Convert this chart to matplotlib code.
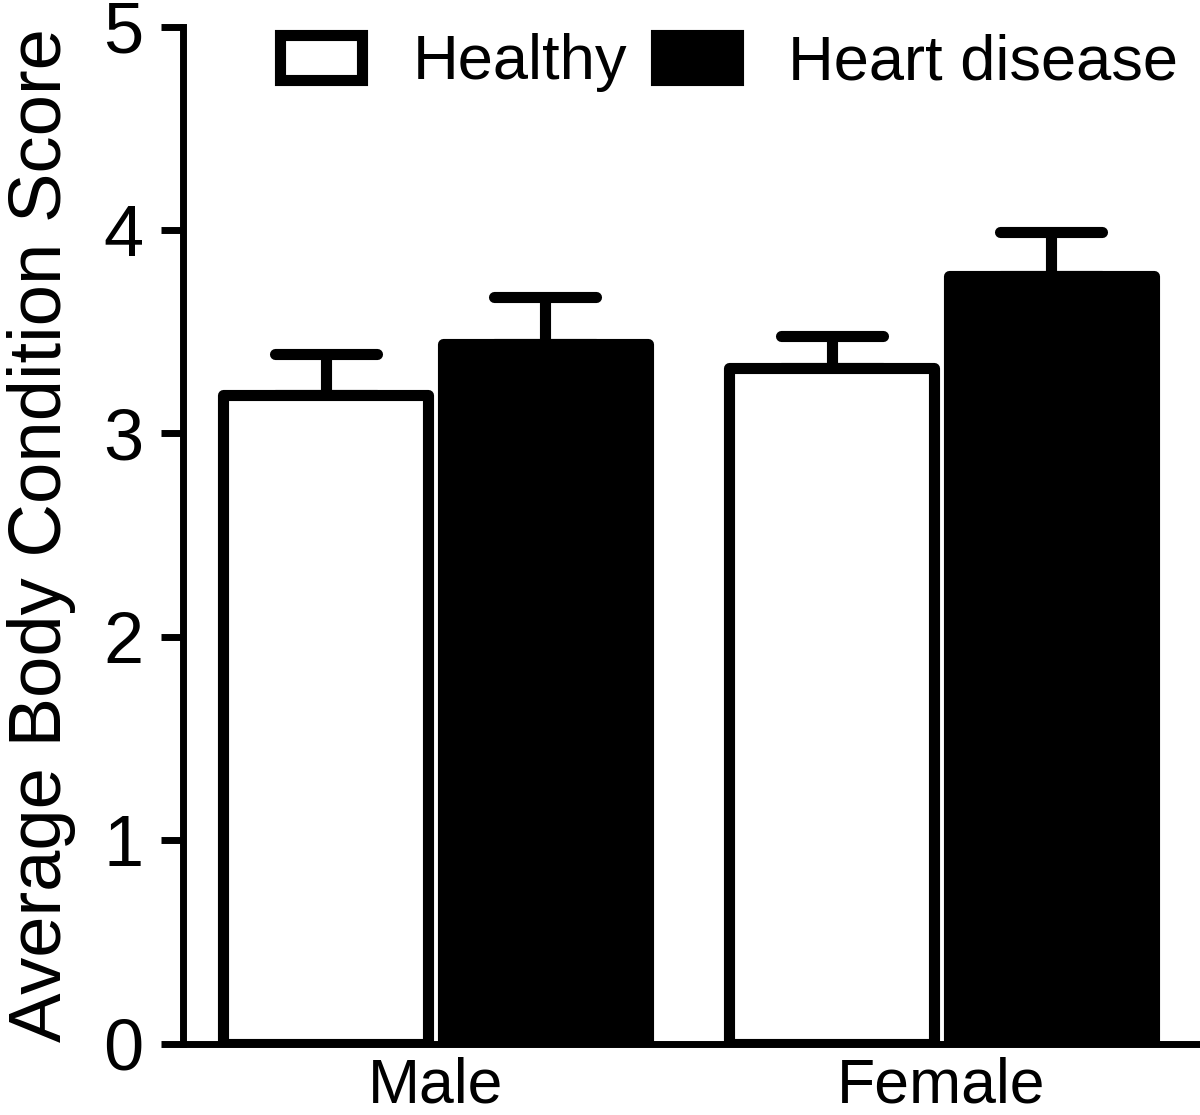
import matplotlib
matplotlib.use('Agg')
import matplotlib.pyplot as plt
from matplotlib.markers import MarkerStyle
import numpy as np

# values (mean and upper error)
groups = ['Male', 'Female']
series = ['Healthy', 'Heart disease']
healthy_mean = [3.19, 3.32]
healthy_err = [0.20, 0.16]
disease_mean = [3.44, 3.775]
disease_err = [0.23, 0.215]
yticks = [0, 1, 2, 3, 4, 5]

plt.rcParams['font.family'] = ['Liberation Sans', 'DejaVu Sans']

fig = plt.figure(figsize=(12, 11.15), dpi=100)
ax = fig.add_axes([0.1521, 0.0641, 0.8454, 0.9119])

x = np.arange(len(groups))
width = 0.405
offset = 0.217
lw = 8

# bars
ax.bar(x - offset, healthy_mean, width, color='white', edgecolor='black',
       linewidth=lw, joinstyle='round', label=series[0], zorder=3)
ax.bar(x + offset, disease_mean, width, color='black', edgecolor='black',
       linewidth=lw, joinstyle='round', label=series[1], zorder=3)

# one-sided error bars
for xs, m, e in [(x - offset, healthy_mean, healthy_err),
                 (x + offset, disease_mean, disease_err)]:
    eb = ax.errorbar(xs, m, yerr=[np.zeros(len(e)), e], fmt='none',
                     ecolor='black', elinewidth=lw, capsize=36.5, capthick=lw,
                     zorder=2)
    for cap in eb[1]:
        cap.set_marker(MarkerStyle('_', capstyle='round'))

ax.set_xlim(-0.5, 1.505)
ax.set_ylim(0, 5)
ax.set_yticks(yticks)
ax.set_xticks(x)
ax.set_xticklabels(groups)

for s in ['top', 'right']:
    ax.spines[s].set_visible(False)
for s in ['left', 'bottom']:
    ax.spines[s].set_linewidth(5)
ax.spines['left'].set_bounds(0, 5)

ax.tick_params(axis='y', length=16, width=5, pad=12, labelsize=52)
ax.tick_params(axis='x', length=0, pad=9, labelsize=45)
ax.set_ylabel('Average Body Condition Score', fontsize=53.5, labelpad=20)

ax.legend(ncol=2, loc='center left', bbox_to_anchor=(280 / 1200, 1 - 63 / 1115),
          bbox_transform=fig.transFigure, frameon=False, fontsize=45.5,
          handlelength=1.3, handleheight=0.74, handletextpad=0.8,
          columnspacing=0.45, borderpad=0, borderaxespad=0)

fig.savefig('out.png', dpi=100)
